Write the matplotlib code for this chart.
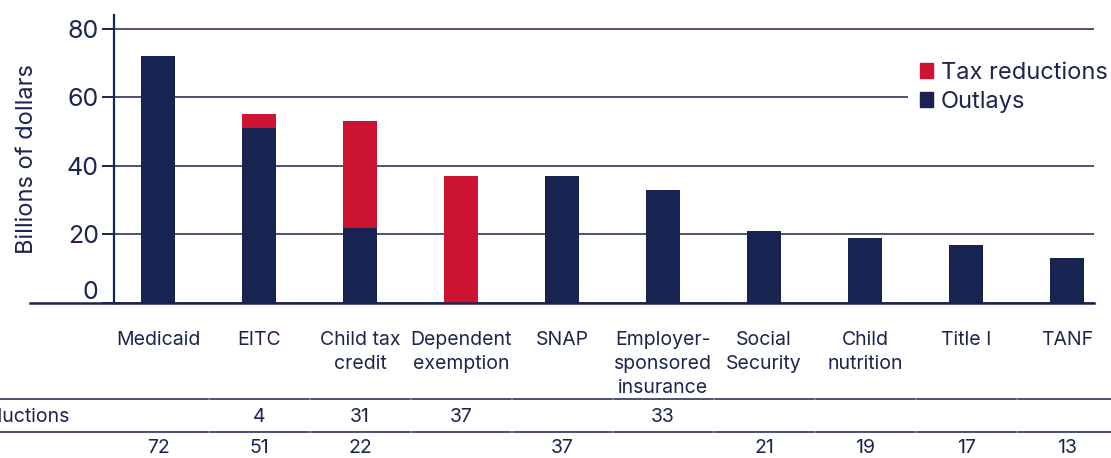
import matplotlib
matplotlib.use("Agg")
import matplotlib.pyplot as plt
import matplotlib.transforms as mtransforms
from matplotlib.lines import Line2D
from matplotlib.patches import Patch

# Programs and the amount spent through each channel (billions of dollars)
categories = ["Medicaid", "EITC", "Child tax\ncredit", "Dependent\nexemption", "SNAP",
              "Employer-\nsponsored\ninsurance", "Social\nSecurity", "Child\nnutrition",
              "Title I", "TANF"]
outlays = [72, 51, 22, 0, 37, 0, 21, 19, 17, 13]
tax_reductions = [0, 4, 31, 37, 0, 33, 0, 0, 0, 0]
row_labels = ["Tax reductions", "Outlays"]

NAVY = "#172350"
RED = "#cc1432"
TEXT = "#1b2550"

plt.rcParams["font.family"] = ["Inter", "DejaVu Sans"]

W, H = 1111, 458
fig = plt.figure(figsize=(W / 100, H / 100), dpi=100)


def fx(px):
    return px / W


def fy(px):
    return 1 - px / H


ax = fig.add_axes([fx(114), fy(303), fx(1094) - fx(114), fy(15) - fy(303)])

x = list(range(len(categories)))
# the employer-sponsored bar is shown in the outlay colour
tax_colors = [NAVY if c.startswith("Employer") else RED for c in categories]

ax.bar(x, outlays, width=0.33, color=NAVY, zorder=3)
ax.bar(x, tax_reductions, width=0.33, bottom=outlays, color=tax_colors, zorder=3)

ax.set_xlim(-0.436, 9.267)
ax.set_ylim(0, 84)
ax.set_yticks([0, 20, 40, 60, 80])
ax.set_xticks([])
ax.tick_params(axis="y", direction="out", length=9, width=1.4, color=NAVY,
               labelsize=18, labelcolor=TEXT, pad=2)
# the zero label sits a little above the baseline
zero = ax.get_yticklabels()[0]
zero.set_transform(zero.get_transform() + mtransforms.ScaledTranslation(0, 13 / 100, fig.dpi_scale_trans))
ax.yaxis.grid(True, color=NAVY, linewidth=1.1, zorder=1)
ax.set_axisbelow(True)
for side in ["top", "right", "bottom"]:
    ax.spines[side].set_visible(False)
ax.spines["left"].set_color(NAVY)
ax.spines["left"].set_linewidth(1.6)
ax.set_ylabel("Billions of dollars", fontsize=17, color=TEXT, labelpad=21)

# baseline running under the table column too
fig.add_artist(Line2D([fx(30), fx(1094)], [fy(303), fy(303)], color=NAVY,
                      linewidth=1.8, transform=fig.transFigure))

legend = ax.legend(handles=[Patch(color=RED, label="Tax reductions"),
                            Patch(color=NAVY, label="Outlays")],
                   loc="upper left", bbox_to_anchor=(fx(908), fy(50)),
                   bbox_transform=fig.transFigure, fontsize=17, frameon=True,
                   fancybox=False, edgecolor="none", facecolor="white", framealpha=1,
                   handlelength=0.55, handleheight=0.55, handletextpad=0.35,
                   labelspacing=0.3, borderpad=0.5, borderaxespad=0)
for t in legend.get_texts():
    t.set_color(TEXT)

# table below the plot: category names, then one row per channel
blend = mtransforms.blended_transform_factory(ax.transData, fig.transFigure)
for xi, name in zip(x, categories):
    ax.text(xi, fy(331), name, transform=blend, ha="center", va="top",
            fontsize=14, color=TEXT, linespacing=1.42, clip_on=False)
    if tax_reductions[xi]:
        ax.text(xi, fy(417), str(tax_reductions[xi]), transform=blend, ha="center",
                va="center", fontsize=14, color=TEXT, clip_on=False)
    if outlays[xi]:
        ax.text(xi, fy(448), str(outlays[xi]), transform=blend, ha="center",
                va="center", fontsize=14, color=TEXT, clip_on=False)

label_x = -68
for row, ypx in zip(row_labels, [417, 448]):
    fig.text(fx(label_x), fy(ypx), row, ha="left", va="center", fontsize=14, color=TEXT)

# ruled lines, broken slightly at each column edge
edges = [-1.7] + [i + 0.5 for i in range(len(categories) - 1)] + [9.6]
for ypx in [399, 432]:
    for a, b in zip(edges[:-1], edges[1:]):
        ax.add_artist(Line2D([a + 0.01, b - 0.01], [fy(ypx), fy(ypx)], color=NAVY,
                             linewidth=1.1, transform=blend, clip_on=False))

fig.savefig("out.png", dpi=100)
